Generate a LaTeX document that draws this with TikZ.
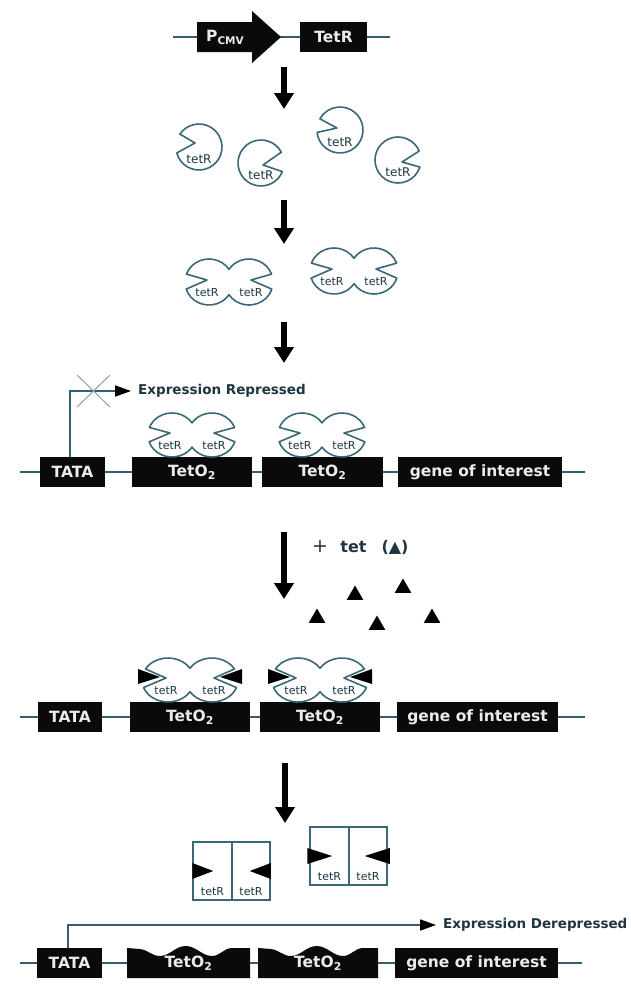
\documentclass[tikz,border=0pt]{standalone}
\usepackage{fontspec}
\setmainfont{DejaVu Sans}
\usetikzlibrary{arrows.meta,shapes.geometric}

\definecolor{dnaline}{HTML}{34606E}
\definecolor{protline}{HTML}{3A6878}
\definecolor{boxfill}{HTML}{0A0A0A}
\definecolor{boxtext}{HTML}{ECECEC}
\definecolor{labtext}{HTML}{1E3640}
\definecolor{crossline}{HTML}{8AA2B0}

\tikzset{
  dna/.style={draw=dnaline, line width=1.8pt},
  prot/.style={draw=protline, line width=1.6pt, line join=round},
  elem/.style={fill=boxfill, draw=none, text=boxtext, inner sep=0pt,
    minimum height=30pt, font=\bfseries\fontsize{15.5}{15.5}\selectfont},
  lab/.style={text=labtext, inner sep=0pt, font=\fontsize{12}{12}\selectfont},
  dimlab/.style={text=labtext, inner sep=0pt, font=\fontsize{11}{11}\selectfont},
  exprlab/.style={text=labtext, inner sep=0pt, anchor=west,
    font=\bfseries\fontsize{13.5}{13.5}\selectfont},
  bigarrow/.style={draw=black, line width=6pt,
    -{Triangle[length=16pt, width=19pt]}},
  promarrow/.style={dna, -{Triangle[length=16pt, width=11pt, color=black]}},
  tetmol/.style={regular polygon, regular polygon sides=3, fill=black,
    draw=none, minimum size=19pt, inner sep=0pt},
  openbox/.style={draw=protline, line width=1.5pt, inner sep=0pt},
}

% monomeric repressor: circle with a wedge-shaped pocket
% #1 name, #2 x, #3 y, #4 pocket start angle, #5 pocket end angle, #6/#7 pocket tip
\newcommand{\pacman}[7]{%
  \begin{scope}[shift={(#2,-#3)}]
    \draw[prot] (#5:23) arc[start angle=#5, end angle={#4+360}, radius=23]
      -- (#6,#7) -- cycle;
    \node[lab] (#1) at (0,-12) {tetR};
  \end{scope}}

% repressor dimer: two pocketed ellipses joined in the middle
% #1 name, #2 x, #3 y, #4 half spacing, #5 x radius, #6 y radius,
% #7 upper jaw angle, #8 lower jaw angle, #9 1 = tetracycline bound
\newcommand{\dimer}[9]{%
  \begin{scope}[shift={(#2,-#3)}]
    \draw[prot] (0,{#6*sin(acos(#4/#5))})
      arc[start angle={acos(#4/#5)}, end angle=#7, x radius=#5, y radius=#6]
      -- ({-#4-2},2)
      -- ({-#4+#5*cos(#8)},{#6*sin(#8)})
      arc[start angle=#8, end angle={360-acos(#4/#5)}, x radius=#5, y radius=#6]
      arc[start angle={180+acos(#4/#5)}, end angle={540-#8}, x radius=#5, y radius=#6]
      -- ({#4+2},2)
      -- ({#4+#5*cos(180-#7)},{#6*sin(180-#7)})
      arc[start angle={180-#7}, end angle={180-acos(#4/#5)}, x radius=#5, y radius=#6]
      -- cycle;
    \ifnum#9=1
      \fill[black] ({-#4-8},3) -- ({-#4-#5-4},11) -- ({-#4-#5-4},-4) -- cycle;
      \fill[black] ({#4+8},3) -- ({#4+#5+4},11) -- ({#4+#5+4},-4) -- cycle;
    \fi
    \node[dimlab] (#1l) at ({-#4-2},-11) {tetR};
    \node[dimlab] (#1r) at ({#4+2},-11) {tetR};
  \end{scope}}

\begin{document}
\begin{tikzpicture}[x=1pt, y=1pt]
  \fill[white] (0,0) rectangle (631,-994);
  \useasboundingbox (0,0) rectangle (631,-994);

  % ---- expression cassette for the repressor ----
  \coordinate (cl) at (173,-37);
  \coordinate (cr) at (390,-37);
  \draw[dna] (cl) -- (cr);
  \fill[boxfill] (197,-22) -- (252,-22) -- (252,-11) -- (281,-37)
    -- (252,-63) -- (252,-52) -- (197,-52) -- cycle;
  \node[text=boxtext, inner sep=0pt, font=\bfseries\fontsize{15.5}{15.5}\selectfont]
    (pcmv) at (225,-37) {P\raisebox{-3pt}{\fontsize{10.5}{10.5}\selectfont CMV}};
  \node[elem, minimum width=67pt] (tetr) at (333.5,-37) {TetR};

  \coordinate (a1s) at (284,-67);
  \coordinate (a1e) at (284,-109);
  \draw[bigarrow] (a1s) -- (a1e);

  % ---- free monomers ----
  \pacman{m1}{199}{147}{146}{195}{-4}{4}
  \pacman{m2}{261}{163}{-22}{28}{2}{-2}
  \pacman{m3}{340}{130}{151}{186}{-3}{2}
  \pacman{m4}{398}{160}{-18}{23}{4}{-2}

  \coordinate (a2s) at (284,-200);
  \coordinate (a2e) at (284,-244);
  \draw[bigarrow] (a2s) -- (a2e);

  % ---- dimers ----
  \dimer{d1}{229}{282}{20}{24}{23}{160}{198}{0}
  \dimer{d2}{354}{271}{20}{24}{23}{160}{198}{0}

  \coordinate (a3s) at (284,-322);
  \coordinate (a3e) at (284,-363);
  \draw[bigarrow] (a3s) -- (a3e);

  % ---- repressed promoter ----
  \coordinate (r1l) at (20,-472);
  \coordinate (r1r) at (585,-472);
  \node[elem, minimum width=65pt] (tata1) at (72.5,-472) {TATA};
  \node[elem, minimum width=120pt] (o11) at (192,-472) {TetO\textsubscript{2}};
  \node[elem, minimum width=121pt] (o12) at (322.5,-472) {TetO\textsubscript{2}};
  \node[elem, minimum width=164pt] (gene1) at (480,-472) {gene of interest};
  \draw[dna] (r1l) -- (tata1) (tata1) -- (o11) (o11) -- (o12) (o12) -- (gene1) (gene1) -- (r1r);
  \coordinate (rep) at (131,-391);
  \draw[promarrow] ([xshift=-2.5pt]tata1.north) |- (rep);
  \draw[crossline, line width=1pt] (77,-375) -- (110,-407) (77,-407) -- (110,-375);
  \node[exprlab] (replab) at (138,-391) {Expression Repressed};
  \dimer{b1}{192}{435}{20}{24}{22}{160}{198}{0}
  \dimer{b2}{322}{435}{20}{24}{22}{160}{198}{0}

  % ---- tetracycline added ----
  \coordinate (a4s) at (284,-532);
  \coordinate (a4e) at (284,-599);
  \draw[bigarrow] (a4s) -- (a4e);
  \node[inner sep=0pt, text=labtext, font=\fontsize{19}{19}\selectfont] (plus) at (320,-547) {+};
  \node[inner sep=0pt, text=labtext, font=\bfseries\fontsize{16}{16}\selectfont] (tetword) at (353.5,-547) {tet};
  \node[inner sep=0pt, text=labtext, font=\bfseries\fontsize{16}{16}\selectfont] (tetsym) at (395,-547) {(▲)};
  \node[tetmol] (t1) at (355,-595) {};
  \node[tetmol] (t2) at (403,-588) {};
  \node[tetmol] (t3) at (317,-618) {};
  \node[tetmol] (t4) at (377,-625) {};
  \node[tetmol] (t5) at (432,-618) {};

  % ---- tetracycline-bound repressor on the operators ----
  \coordinate (r2l) at (20,-717);
  \coordinate (r2r) at (585,-717);
  \node[elem, minimum width=64pt] (tata2) at (70,-717) {TATA};
  \node[elem, minimum width=120pt] (o21) at (190,-717) {TetO\textsubscript{2}};
  \node[elem, minimum width=120pt] (o22) at (320,-717) {TetO\textsubscript{2}};
  \node[elem, minimum width=161pt] (gene2) at (477.5,-717) {gene of interest};
  \draw[dna] (r2l) -- (tata2) (tata2) -- (o21) (o21) -- (o22) (o22) -- (gene2) (gene2) -- (r2r);
  \dimer{c1}{190}{680}{22}{26}{22}{150}{200}{1}
  \dimer{c2}{320}{680}{22}{26}{22}{150}{200}{1}

  \coordinate (a5s) at (285,-763);
  \coordinate (a5e) at (285,-823);
  \draw[bigarrow] (a5s) -- (a5e);

  % ---- released repressor ----
  \node[openbox, minimum width=39pt, minimum height=58pt] (f1a) at (212.5,-871) {};
  \node[openbox, minimum width=38pt, minimum height=58pt] (f1b) at (251,-871) {};
  \fill[black] (f1a.west) ++(0,8) -- ++(21,-8) -- ++(-21,-8) -- cycle;
  \fill[black] (f1b.east) ++(0,8) -- ++(-21,-8) -- ++(21,-8) -- cycle;
  \node[dimlab] (f1al) at (212.5,-892) {tetR};
  \node[dimlab] (f1bl) at (251,-892) {tetR};

  \node[openbox, minimum width=39pt, minimum height=58pt] (f2a) at (329.5,-856) {};
  \node[openbox, minimum width=38pt, minimum height=58pt] (f2b) at (368,-856) {};
  \fill[black] ([xshift=-2pt]f2a.west) ++(0,8) -- ++(25,-8) -- ++(-25,-8) -- cycle;
  \fill[black] ([xshift=2pt]f2b.east) ++(0,8) -- ++(-25,-8) -- ++(25,-8) -- cycle;
  \node[dimlab] (f2al) at (329.5,-877) {tetR};
  \node[dimlab] (f2bl) at (368,-877) {tetR};

  % ---- derepressed promoter ----
  \coordinate (r3l) at (20,-963);
  \coordinate (r3r) at (582,-963);
  \node[elem, minimum width=65pt] (tata3) at (69.5,-963) {TATA};
  \fill[boxfill] (127,-978) -- (127,-948) -- (140,-949)
    .. controls (148,-950) and (152,-956) .. (160,-956)
    .. controls (170,-956) and (175,-946) .. (186,-946)
    .. controls (196,-946) and (202,-956) .. (212,-956)
    .. controls (220,-956) and (224,-948) .. (232,-948)
    -- (250,-948) -- (250,-978) -- cycle;
  \fill[boxfill] (258,-978) -- (258,-948) -- (271,-949)
    .. controls (279,-950) and (283,-956) .. (291,-956)
    .. controls (301,-956) and (306,-946) .. (317,-946)
    .. controls (327,-946) and (333,-956) .. (343,-956)
    .. controls (351,-956) and (355,-948) .. (363,-948)
    -- (378,-948) -- (378,-978) -- cycle;
  \node[elem, fill=none, minimum width=123pt] (o31) at (188.5,-963) {TetO\textsubscript{2}};
  \node[elem, fill=none, minimum width=120pt] (o32) at (318,-963) {TetO\textsubscript{2}};
  \node[elem, minimum width=163pt] (gene3) at (476.5,-963) {gene of interest};
  \draw[dna] (r3l) -- (tata3) (tata3) -- (o31) (o31) -- (o32) (o32) -- (gene3) (gene3) -- (r3r);
  \coordinate (der) at (436,-925);
  \draw[promarrow] ([xshift=-1.5pt]tata3.north) |- (der);
  \node[exprlab] (derlab) at (443,-925) {Expression Derepressed};
\end{tikzpicture}
\end{document}
